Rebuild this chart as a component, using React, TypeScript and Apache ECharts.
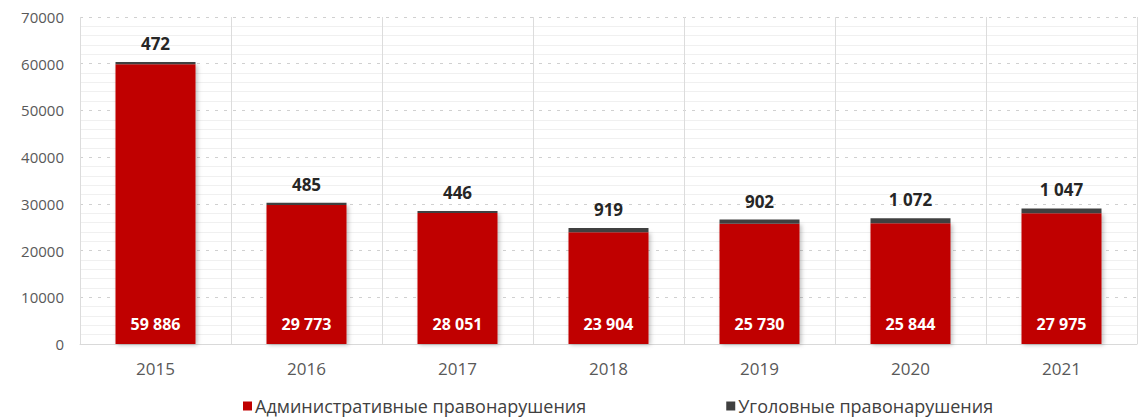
import React, { useEffect, useRef } from "react";
import * as echarts from "echarts";

const years = ["2015", "2016", "2017", "2018", "2019", "2020", "2021"];
const adminValues = [59886, 29773, 28051, 23904, 25730, 25844, 27975];
const criminalValues = [472, 485, 446, 919, 902, 1072, 1047];
const seriesNames = ["Административные правонарушения", "Уголовные правонарушения"];

const fmt = (v: number) => String(v).replace(/\B(?=(\d{3})+(?!\d))/g, " ");
const FONT = "Open Sans";

export default function App() {
  const ref = useRef<HTMLDivElement>(null);
  useEffect(() => {
    const chart = echarts.init(ref.current!, null, { renderer: "svg" });
    chart.setOption({
      animation: false,
      backgroundColor: "#ffffff",
      textStyle: { fontFamily: FONT },
      grid: { left: 80, right: 5, top: 17, bottom: 76 },
      legend: {
        bottom: 0,
        left: 238,
        itemWidth: 9,
        itemHeight: 9,
        itemGap: 140,
        icon: "rect",
        textStyle: { fontSize: 18, color: "#404040", fontFamily: FONT, padding: [0, 0, 0, -2] },
        data: seriesNames,
      },
      xAxis: {
        type: "category",
        data: years,
        axisLine: { show: true, lineStyle: { color: "#d9d9d9" } },
        axisTick: { show: false },
        axisLabel: { fontSize: 17, color: "#595959", margin: 16, fontFamily: FONT },
        splitLine: { show: true, lineStyle: { color: "#dcdcdc", width: 1 } },
      },
      yAxis: {
        type: "value",
        min: 0,
        max: 70000,
        interval: 10000,
        axisLine: { show: false },
        axisTick: { show: false },
        axisLabel: {
          fontSize: 15,
          color: "#595959",
          margin: 16,
          fontFamily: FONT,
          formatter: (v: number) => String(v),
        },
        splitLine: { show: true, lineStyle: { color: "#d0d0d0", type: [3, 6], width: 1 } },
        minorTick: { show: false, splitNumber: 5 },
        minorSplitLine: { show: true, lineStyle: { color: "#f0f0f0", width: 1 } },
      },
      series: [
        {
          name: seriesNames[0],
          type: "bar",
          stack: "total",
          barWidth: 80,
          data: adminValues,
          itemStyle: {
            color: "#c00000",
            shadowBlur: 4,
            shadowColor: "rgba(0,0,0,0.25)",
            shadowOffsetX: 2,
            shadowOffsetY: 1,
          },
          label: {
            show: true,
            position: "insideBottom",
            distance: 12,
            color: "#ffffff",
            fontSize: 16,
            fontWeight: "bold",
            fontFamily: FONT,
            formatter: (p: any) => fmt(p.value),
          },
        },
        {
          name: seriesNames[1],
          type: "bar",
          stack: "total",
          barWidth: 80,
          data: criminalValues,
          itemStyle: { color: "#404040" },
          label: {
            show: true,
            position: "top",
            distance: 10,
            color: "#262626",
            fontSize: 17,
            fontWeight: "bold",
            fontFamily: FONT,
            formatter: (p: any) => fmt(p.value),
          },
        },
      ],
    });
    return () => chart.dispose();
  }, []);
  return (
    <div
      ref={ref}
      style={{ position: "fixed", left: 0, top: 0, width: 1142, height: 420 }}
    />
  );
}
